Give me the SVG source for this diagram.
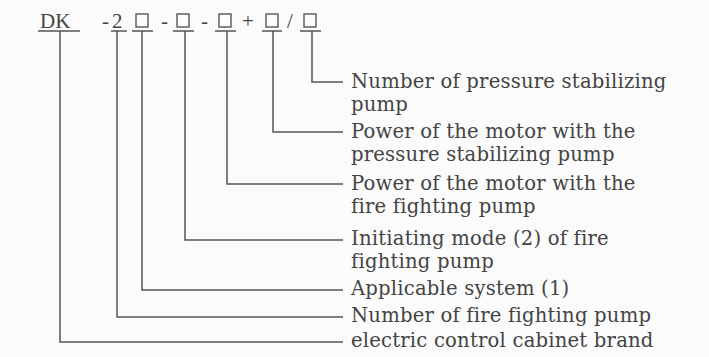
<svg xmlns="http://www.w3.org/2000/svg" width="709" height="357" viewBox="0 0 709 357">
<style>
.t{font-family:"DejaVu Serif","Liberation Serif",serif;font-size:19.6px;letter-spacing:0.2px;fill:#444}
.h{font-family:"Liberation Serif","Times New Roman",serif;font-size:21px;fill:#444}
.b{fill:none;stroke:#555;stroke-width:1.4}
.c{fill:none;stroke:#555;stroke-width:1.5}
</style>
<rect width="709" height="357" fill="#fbfbfb"/>
<g id="code">
<text class="h" x="40" y="28">DK</text>
<text class="h" x="102" y="28">-</text>
<text class="h" x="112" y="28">2</text>
<rect class="b" x="136" y="14" width="12" height="13"/>
<text class="h" x="161" y="28">-</text>
<rect class="b" x="177" y="14" width="12" height="13"/>
<text class="h" x="201" y="28">-</text>
<rect class="b" x="219" y="14" width="12" height="13"/>
<text class="h" x="242" y="28">+</text>
<rect class="b" x="266" y="14" width="12" height="13"/>
<text class="h" x="287" y="28">/</text>
<rect class="b" x="304" y="14" width="12" height="13"/>
</g>
<g id="connectors" class="c">
<path d="M38 31H80M111 31H127M132 31H153M173 31H194M215 31H236M262 31H282M300 31H321"/>
<path d="M312 31V82H343"/>
<path d="M273 31V132H343"/>
<path d="M227 31V184H343"/>
<path d="M185 31V240H343"/>
<path d="M142 31V290H343"/>
<path d="M117 31V317H343"/>
<path d="M60 31V342H343"/>
</g>
<g id="n1"><text class="t" x="351" y="88">Number of pressure stabilizing</text><text class="t" x="351" y="111">pump</text></g>
<g id="n2"><text class="t" x="351" y="138">Power of the motor with the</text><text class="t" x="351" y="161">pressure stabilizing pump</text></g>
<g id="n3"><text class="t" x="351" y="190">Power of the motor with the</text><text class="t" x="351" y="213">fire fighting pump</text></g>
<g id="n4"><text class="t" x="351" y="245">Initiating mode (2) of fire</text><text class="t" x="351" y="268">fighting pump</text></g>
<g id="n5"><text class="t" x="351" y="295">Applicable system (1)</text></g>
<g id="n6"><text class="t" x="351" y="322">Number of fire fighting pump</text></g>
<g id="n7"><text class="t" x="351" y="347">electric control cabinet brand</text></g>
</svg>
